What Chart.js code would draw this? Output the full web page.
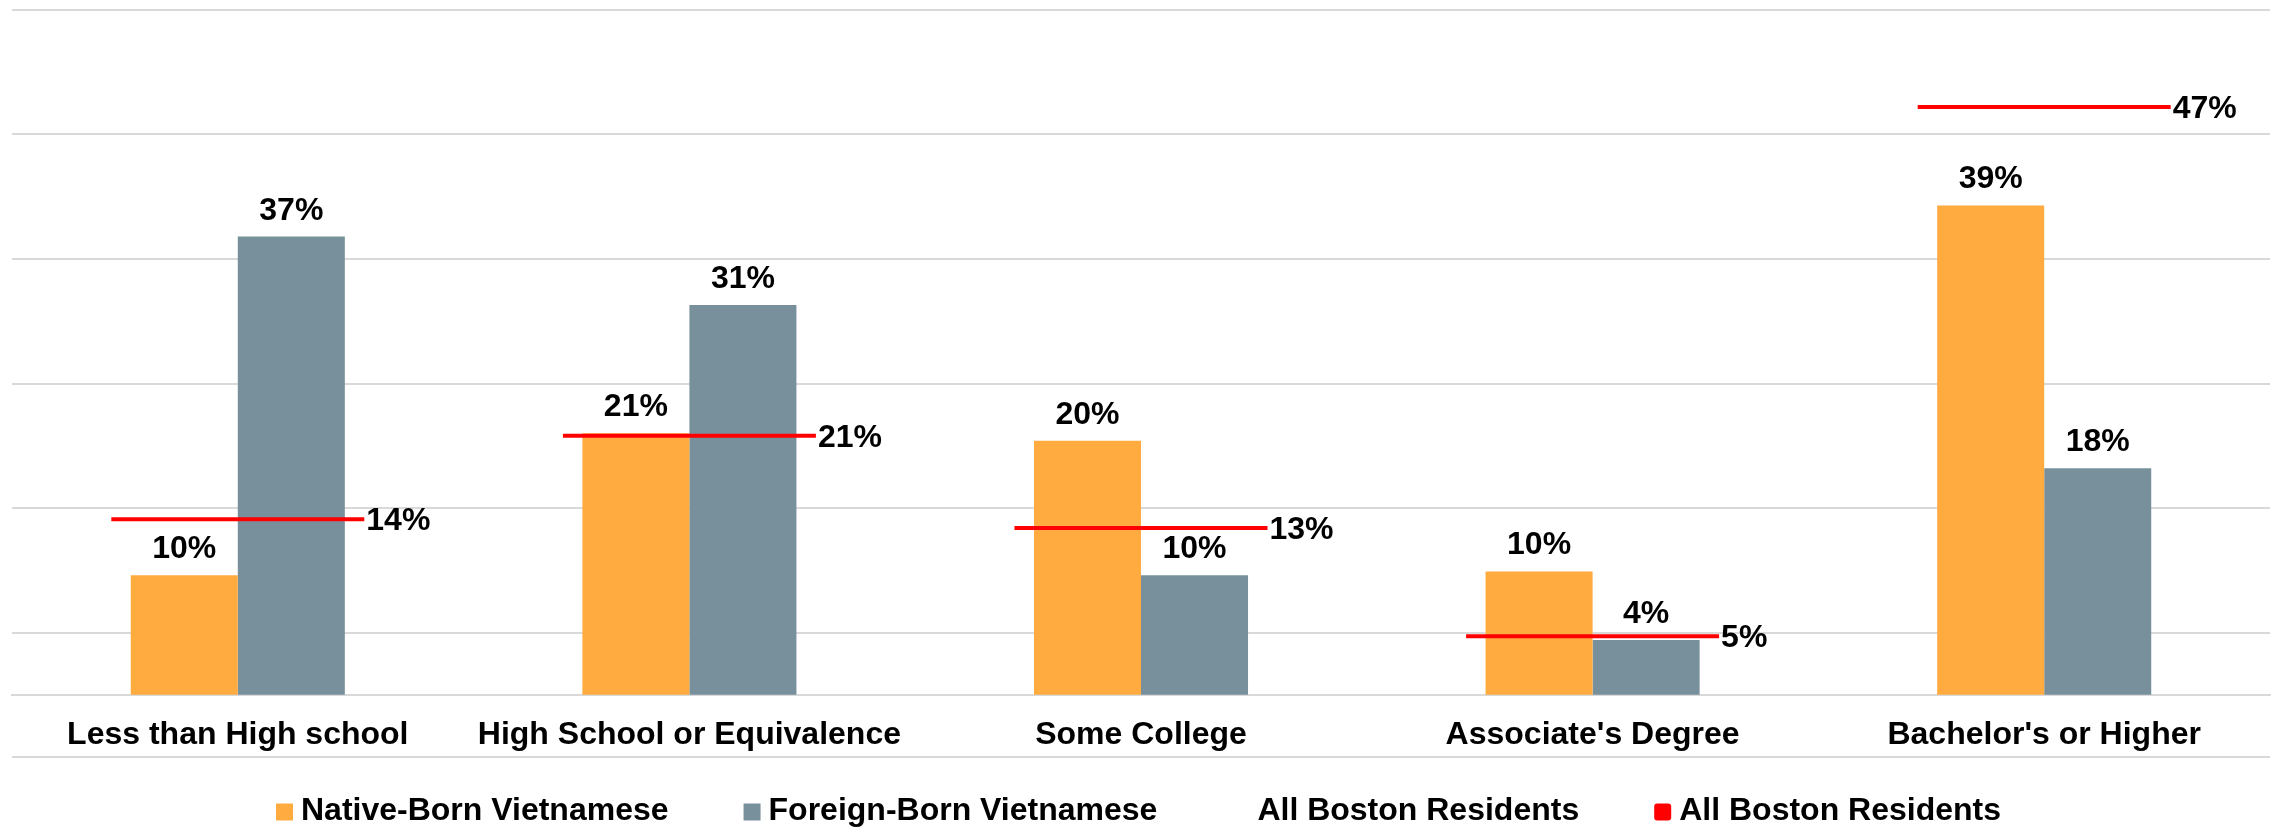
<!DOCTYPE html>
<html>
<head>
<meta charset="utf-8">
<script src="https://cdn.jsdelivr.net/npm/chart.js@4.4.1/dist/chart.umd.min.js"></script>
<style>
  html, body { margin: 0; padding: 0; background: #fff; }
  #wrap { width: 2277px; height: 828px; }
</style>
</head>
<body>
<div id="wrap"><canvas id="chart"></canvas></div>
<script>
// données (en %)
const categories = ["Less than High school", "High School or Equivalence", "Some College", "Associate's Degree", "Bachelor's or Higher"];
const nativeBorn = [9.6, 21.0, 20.4, 9.9, 39.3];
const foreignBorn = [36.8, 31.3, 9.6, 4.4, 18.2];
const bostonAll = [14.1, 20.8, 13.4, 4.7, 47.2];
const yMin = -5, yMax = 55, yStep = 10;

const FONT = "'Liberation Sans', Arial, sans-serif";
const ORANGE = '#FFAB40';
const SLATE = '#78909C';
const RED = '#FF0000';
const GRID = '#D9D9D9';
const LINE_HALF = 126.5;

// étiquettes de valeurs (au-dessus des barres, à droite des traits rouges)
const valueLabels = {
    id: 'valueLabels',
    afterDatasetsDraw(chart) {
        const ctx = chart.ctx;
        ctx.save();
        ctx.font = 'bold 32px ' + FONT;
        ctx.fillStyle = '#000';
        chart.data.datasets.forEach((ds, di) => {
            const meta = chart.getDatasetMeta(di);
            if (ds.labelMode === 'top') {
                ctx.textAlign = 'center';
                ctx.textBaseline = 'alphabetic';
                meta.data.forEach((el, i) => ctx.fillText(Math.round(ds.data[i]) + '%', el.x, el.y - 17));
            } else if (ds.labelMode === 'right') {
                ctx.textAlign = 'left';
                ctx.textBaseline = 'middle';
                meta.data.forEach((el, i) => ctx.fillText(Math.round(ds.data[i]) + '%', el.x + LINE_HALF + 2, el.y + 2));
            }
        });
        ctx.restore();
    }
};

// légende en bas, dessinée à la main pour coller à l'espacement d'origine
const bottomLegend = {
    id: 'bottomLegend',
    afterDraw(chart) {
        const ctx = chart.ctx;
        ctx.save();
        ctx.font = 'bold 32px ' + FONT;
        const box = 17, gap = 8, spacing = 75;
        const items = chart.data.datasets.map(ds => ({ text: ds.label, color: ds.legendColor, w: ctx.measureText(ds.label).width }));
        const total = items.reduce((s, it) => s + box + gap + it.w, 0) + spacing * (items.length - 1);
        let x = (chart.width - total) / 2;
        const y = 811;
        items.forEach(it => {
            if (it.color) {
                ctx.fillStyle = it.color;
                ctx.beginPath();
                ctx.roundRect(x, y - box / 2 + 1, box, box, it.color === RED ? 3 : 0);
                ctx.fill();
            }
            ctx.fillStyle = '#000';
            ctx.textAlign = 'left';
            ctx.textBaseline = 'middle';
            ctx.fillText(it.text, x + box + gap, y);
            x += box + gap + it.w + spacing;
        });
        ctx.restore();
    }
};

new Chart(document.getElementById('chart'), {
    data: {
        labels: categories,
        datasets: [
            { type: 'bar', label: 'Native-Born Vietnamese', data: nativeBorn, backgroundColor: ORANGE, legendColor: ORANGE, labelMode: 'top', order: 3 },
            { type: 'bar', label: 'Foreign-Born Vietnamese', data: foreignBorn, backgroundColor: SLATE, legendColor: SLATE, labelMode: 'top', order: 3 },
            { type: 'line', label: 'All Boston Residents', data: bostonAll, showLine: false, pointRadius: 0, backgroundColor: 'transparent', borderColor: 'transparent', legendColor: null, labelMode: 'right', order: 1 },
            { type: 'line', label: 'All Boston Residents', data: bostonAll, showLine: false, pointStyle: 'line', pointRadius: LINE_HALF, pointBorderWidth: 4, pointBorderColor: RED, pointBackgroundColor: RED, borderColor: RED, backgroundColor: RED, legendColor: RED, order: 0 }
        ]
    },
    options: {
        responsive: true,
        maintainAspectRatio: false,
        animation: false,
        events: [],
        // pas d'autoPadding : le grand rayon des traits rouges rétrécirait la zone
        layout: { autoPadding: false, padding: { left: 12, right: 7, top: 10, bottom: 71 } },
        datasets: { bar: { categoryPercentage: 0.474, barPercentage: 1 } },
        plugins: { legend: { display: false }, tooltip: { enabled: false } },
        scales: {
            x: {
                position: { y: 0 },
                grid: { display: false, drawTicks: false },
                border: { display: true, color: GRID, width: 2 },
                ticks: { color: '#000', font: { family: FONT, size: 32, weight: 'bold' }, padding: 21, autoSkip: false, maxRotation: 0 }
            },
            y: {
                min: yMin, max: yMax,
                grid: { color: GRID, lineWidth: 2, drawTicks: false },
                border: { display: false },
                ticks: { display: false, stepSize: yStep }
            }
        }
    },
    plugins: [valueLabels, bottomLegend]
});
</script>
</body>
</html>
